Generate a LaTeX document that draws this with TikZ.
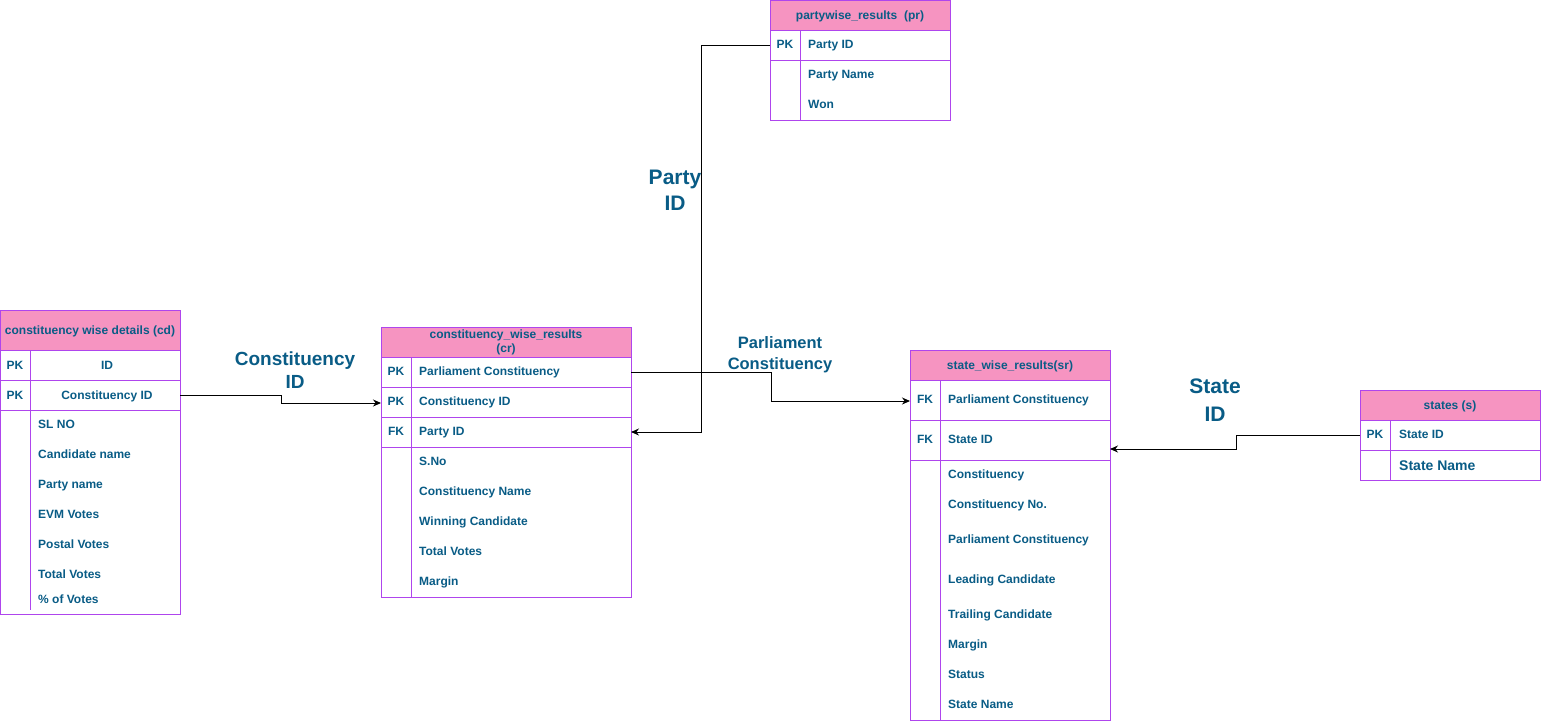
\documentclass[tikz,border=0pt]{standalone}
\usepackage{fontspec}
\setmainfont{Liberation Sans}
\usetikzlibrary{arrows.meta}
\definecolor{erpink}{HTML}{F694C1}
\definecolor{erline}{HTML}{AF45ED}
\definecolor{ertext}{HTML}{095C86}
\tikzset{
  tbl/.style={draw=erline, line width=1pt},
  hdrfill/.style={fill=erpink},
  txtbase/.style={font=\bfseries\fontsize{12}{14}\selectfont, text=ertext, inner sep=0pt},
  txt/.style={txtbase, anchor=base, yshift=-4.3pt},
  txtw/.style={txtbase, anchor=base west, yshift=-4.3pt},
  lbl/.style 2 args={font=\bfseries\fontsize{#1}{#2}\selectfont, text=ertext, align=center, inner sep=0pt},
  conn/.style={draw=black, line width=1pt, -{Stealth[length=8pt,width=7pt]}}
}
\begin{document}
\begin{tikzpicture}[x=1pt,y=-1pt]
\useasboundingbox (0,0) rectangle (1541,721);
\fill[white] (0,0) rectangle (1541,721);

% ---------- constituency wise details (cd)
\fill[hdrfill] (0,310) rectangle (180,350);
\draw[tbl] (0,310) rectangle (180,614);
\draw[tbl] (0,350) -- (180,350) (0,380) -- (180,380) (0,410) -- (180,410);
\draw[tbl] (30,350) -- (30,610);
\node[txt] (cdh) at (90,330) {constituency wise details (cd)};
\node[txt] (cdk1) at (15,365) {PK};
\node[txt] (cdk2) at (15,395) {PK};
\node[txt] (cdid) at (107,365) {ID};
\node[txt] (cdcid) at (107,395) {Constituency ID};
\node[txtw] (cda1) at (38,424) {SL NO};
\node[txtw] (cda2) at (38,454) {Candidate name};
\node[txtw] (cda3) at (38,484) {Party name};
\node[txtw] (cda4) at (38,514) {EVM Votes};
\node[txtw] (cda5) at (38,544) {Postal Votes};
\node[txtw] (cda6) at (38,574) {Total Votes};
\node[txtw] (cda7) at (38,599) {\% of Votes};
\coordinate (cdR) at (180,395);

% ---------- constituency_wise_results (cr)
\fill[hdrfill] (381,327) rectangle (631,357);
\draw[tbl] (381,327) rectangle (631,597);
\draw[tbl] (381,357) -- (631,357) (381,387) -- (631,387) (381,417) -- (631,417) (381,447) -- (631,447);
\draw[tbl] (411,357) -- (411,597);
\node[txtbase, align=center] (crh) at (506,342) {constituency\_wise\_results\\(cr)};
\node[txt] (crk1) at (396,371) {PK};
\node[txt] (crk2) at (396,401) {PK};
\node[txt] (crk3) at (396,431) {FK};
\node[txtw] (crpc) at (419,371) {Parliament Constituency};
\node[txtw] (crcid) at (419,401) {Constituency ID};
\node[txtw] (crpid) at (419,431) {Party ID};
\node[txtw] (cra1) at (419,461) {S.No};
\node[txtw] (cra2) at (419,491) {Constituency Name};
\node[txtw] (cra3) at (419,521) {Winning Candidate};
\node[txtw] (cra4) at (419,551) {Total Votes};
\node[txtw] (cra5) at (419,581) {Margin};
\coordinate (crL) at (381,403);
\coordinate (crPCR) at (631,372);
\coordinate (crPIDR) at (631,432);

% ---------- partywise_results (pr)
\fill[hdrfill] (770,0.5) rectangle (950,30);
\draw[tbl] (770,0.5) rectangle (950,120);
\draw[tbl] (770,30) -- (950,30) (770,60) -- (950,60);
\draw[tbl] (800,30) -- (800,120);
\node[txt] (prh) at (860,15) {partywise\_results\ \ (pr)};
\node[txt] (prk1) at (785,44) {PK};
\node[txtw] (pra1) at (808,44) {Party ID};
\node[txtw] (pra2) at (808,74) {Party Name};
\node[txtw] (pra3) at (808,104) {Won};
\coordinate (prL) at (770,45);

% ---------- state_wise_results (sr)
\fill[hdrfill] (910,350) rectangle (1110,380);
\draw[tbl] (910,350) rectangle (1110,720);
\draw[tbl] (910,380) -- (1110,380) (910,420) -- (1110,420) (910,460) -- (1110,460);
\draw[tbl] (940,380) -- (940,720);
\node[txt] (srh) at (1010,365) {state\_wise\_results(sr)};
\node[txt] (srk1) at (925,399) {FK};
\node[txt] (srk2) at (925,439) {FK};
\node[txtw] (srpc) at (948,399) {Parliament Constituency};
\node[txtw] (srsid) at (948,439) {State ID};
\node[txtw] (sra1) at (948,474) {Constituency};
\node[txtw] (sra2) at (948,504) {Constituency No.};
\node[txtw] (sra3) at (948,539) {Parliament Constituency};
\node[txtw] (sra4) at (948,579) {Leading Candidate};
\node[txtw] (sra5) at (948,614) {Trailing Candidate};
\node[txtw] (sra6) at (948,644) {Margin};
\node[txtw] (sra7) at (948,674) {Status};
\node[txtw] (sra8) at (948,704) {State Name};
\coordinate (srL) at (910,401);
\coordinate (srR) at (1110,449);

% ---------- states (s)
\fill[hdrfill] (1360,390) rectangle (1540,420);
\draw[tbl] (1360,390) rectangle (1540,480);
\draw[tbl] (1360,420) -- (1540,420) (1360,450) -- (1540,450);
\draw[tbl] (1390,420) -- (1390,480);
\node[txt] (sth) at (1450,405) {states (s)};
\node[txt] (stk1) at (1375,434) {PK};
\node[txtw] (sta1) at (1399,434) {State ID};
\node[txtw, font=\bfseries\fontsize{14}{16}\selectfont, yshift=-0.7pt] (sta2) at (1399,465) {State Name};
\coordinate (stL) at (1360,435);

% ---------- connectors
\draw[conn] (cdR) -- ++(101,0) |- (crL);
\draw[conn] (prL) -- ++(-69,0) |- (crPIDR);
\draw[conn] (crPCR) -- ++(140,0) |- (srL);
\draw[conn] (stL) -- ++(-124,0) |- (srR);

% ---------- labels
\node[lbl={19}{23}] (l1) at (295,370) {Constituency\\ID};
\node[lbl={21}{26}] (l2) at (675,190) {Party\\ID};
\node[lbl={16.5}{21}] (l3) at (780,355) {Parliament\\Constituency};
\node[lbl={21}{28}] (l4) at (1215,400) {State\\ID};
\end{tikzpicture}
\end{document}
